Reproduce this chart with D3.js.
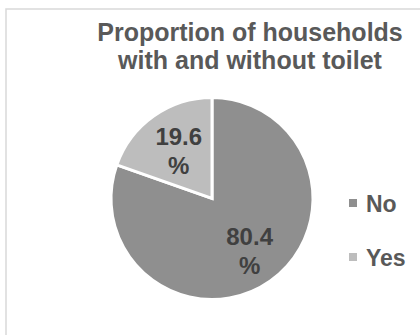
<!DOCTYPE html>
<html>
<head>
<meta charset="utf-8">
<script src="https://cdn.jsdelivr.net/npm/d3@7"></script>
<style>
html,body{margin:0;padding:0;background:#fff;}
svg{display:block;font-family:"Liberation Sans",Arial,sans-serif;}
</style>
</head>
<body>
<script>
const categories = ["No", "Yes"];
const values = [80.4, 19.6];
const labels = ["80.4", "19.6"];
const titleLines = ["Proportion of households", "with and without toilet"];
const colors = ["#8f8f8f", "#bdbdbd"];

const W = 420, H = 335;
const svg = d3.select("body").append("svg").attr("width", W).attr("height", H);

svg.append("rect").attr("x", 6).attr("y", 9).attr("width", 520).attr("height", 400)
  .attr("fill", "#fff").attr("stroke", "#d9d9d9").attr("stroke-width", 1.5);

svg.append("text").attr("text-anchor", "middle").attr("fill", "#595959")
  .attr("font-weight", "bold").attr("font-size", 25)
  .selectAll("tspan").data(titleLines).join("tspan")
  .attr("x", 250).attr("y", (d, i) => 41 + i * 28).text(d => d);

const cx = 212, cy = 198.5, R = 101;
const color = d3.scaleOrdinal().domain(categories).range(colors);
const pie = d3.pie().sort(null).value(d => d.v);
const arcs = pie(categories.map((c, i) => ({c, v: values[i], l: labels[i]})));
const arc = d3.arc().innerRadius(0).outerRadius(R);
const g = svg.append("g").attr("transform", `translate(${cx},${cy})`);
g.selectAll("path").data(arcs).join("path")
  .attr("d", arc).attr("fill", d => color(d.data.c))
  .attr("stroke", "#fff").attr("stroke-width", 3).attr("stroke-linejoin", "miter");

const labelR = [0.645, 0.57];
arcs.forEach((d, i) => {
  const a = (d.startAngle + d.endAngle) / 2;
  const r = R * labelR[i];
  const x = Math.sin(a) * r, y = -Math.cos(a) * r;
  const t = g.append("text").attr("text-anchor", "middle").attr("fill", "#404040")
    .attr("font-weight", "bold").attr("font-size", 24);
  t.append("tspan").attr("x", x).attr("y", y - 7).text(d.data.l);
  t.append("tspan").attr("x", x).attr("y", y + 22).text("%");
});

const leg = svg.append("g");
categories.forEach((c, i) => {
  const y = 204 + i * 54;
  leg.append("rect").attr("x", 349).attr("y", y - 5).attr("width", 8).attr("height", 8)
    .attr("fill", color(c));
  leg.append("text").attr("x", 366).attr("y", y + 8).attr("fill", "#595959")
    .attr("font-weight", "bold").attr("font-size", 23).text(c);
});
</script>
</body>
</html>
